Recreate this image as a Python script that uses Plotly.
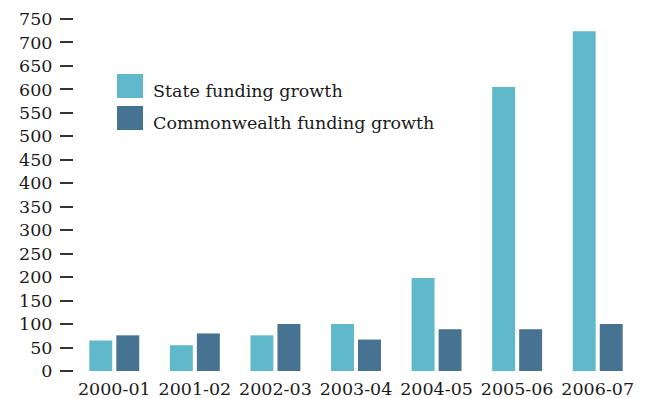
import plotly.graph_objects as go

categories = ["2000-01", "2001-02", "2002-03", "2003-04", "2004-05", "2005-06", "2006-07"]
state_growth = [65, 55, 76, 100, 198, 605, 724]
commonwealth_growth = [76, 80, 100, 67, 89, 89, 100]
series_names = ["State funding growth", "Commonwealth funding growth"]
y_ticks = list(range(0, 751, 50))

c_state = "#5FB9CB"
c_comm = "#467391"
font_family = "DejaVu Serif"
fs = 17.5

fig = go.Figure()
fig.add_trace(go.Bar(x=categories, y=state_growth, name=series_names[0],
                     marker=dict(color=c_state, line=dict(width=0))))
fig.add_trace(go.Bar(x=categories, y=commonwealth_growth, name=series_names[1],
                     marker=dict(color=c_comm, line=dict(width=0))))

# legend drawn as large swatches + labels
for i, (nm, col) in enumerate(zip(series_names, [c_state, c_comm])):
    y0 = 74 + i * 32
    fig.add_shape(type="rect", xref="paper", yref="paper",
                  x0=(117 - 74) / 564, x1=(143 - 74) / 564,
                  y0=1 - (y0 + 24 - 19) / 352, y1=1 - (y0 - 19) / 352,
                  fillcolor=col, line=dict(width=0))
    fig.add_annotation(text=nm, xref="paper", yref="paper",
                       x=(151 - 74) / 564, y=1 - (y0 + 17 - 19) / 352,
                       xanchor="left", yanchor="middle", showarrow=False,
                       font=dict(family=font_family, size=fs, color="#1a1a1a"))

fig.update_layout(
    width=646, height=398,
    margin=dict(l=74, r=8, t=19, b=27),
    paper_bgcolor="white", plot_bgcolor="white",
    barmode="group", bargap=0.33, bargroupgap=0.15,
    showlegend=False,
    font=dict(family=font_family, size=fs, color="#1a1a1a"),
)
fig.update_xaxes(type="category", showline=False, showgrid=False, ticks="", zeroline=False,
                 automargin=False, ticklabelstandoff=5,
                 tickfont=dict(family=font_family, size=fs, color="#1a1a1a"))
fig.update_yaxes(range=[0, 750], tickvals=y_ticks, showgrid=False, zeroline=False,
                 showline=False, ticks="outside", ticklen=13, tickwidth=2,
                 automargin=False,
                 tickcolor="#333333", ticklabelstandoff=4,
                 tickfont=dict(family=font_family, size=fs, color="#1a1a1a"))

fig.write_html("out.html")
